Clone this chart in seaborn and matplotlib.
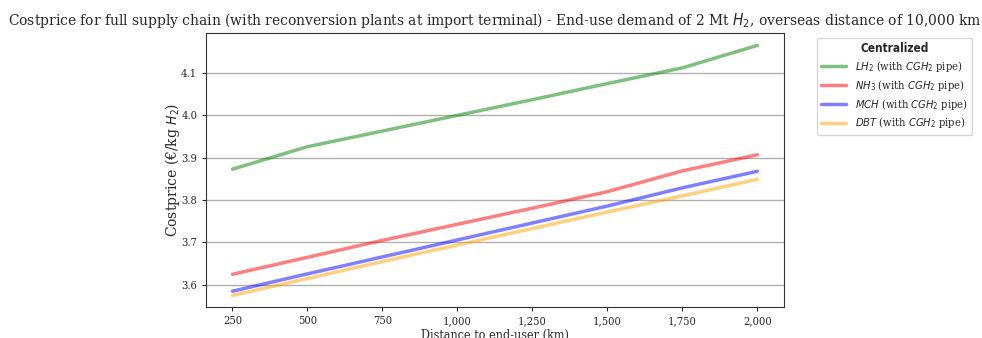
import numpy as np
import pandas as pd
import matplotlib.pyplot as plt
import matplotlib.ticker as mticker
import seaborn as sns

distance = [250, 500, 750, 1000, 1250, 1500, 1750, 2000]
lh2 = [3.873, 3.926, 3.963, 4.000, 4.037, 4.075, 4.112, 4.165]
nh3 = [3.625, 3.665, 3.705, 3.743, 3.781, 3.820, 3.869, 3.907]
mch = [3.585, 3.626, 3.666, 3.706, 3.746, 3.786, 3.829, 3.868]
dbt = [3.575, 3.615, 3.655, 3.694, 3.733, 3.772, 3.810, 3.849]

labels = [r'$LH_2$ (with $CGH_2$ pipe)', r'$NH_3$ (with $CGH_2$ pipe)',
          r'$MCH$ (with $CGH_2$ pipe)', r'$DBT$ (with $CGH_2$ pipe)']
colors = ['green', 'red', 'blue', 'orange']

df = pd.DataFrame({
    'distance': distance * 4,
    'cost': lh2 + nh3 + mch + dbt,
    'carrier': np.repeat(labels, len(distance)),
})

sns.set_style('white')
plt.rcParams['font.family'] = ['DejaVu Serif', 'DejaVu Sans']
plt.rcParams['font.stretch'] = 'condensed'

fig = plt.figure(figsize=(9.82, 3.38), dpi=100)
ax = fig.add_axes([0.21, 0.092, 0.588, 0.81])
sns.lineplot(data=df, x='distance', y='cost', hue='carrier', palette=colors,
             linewidth=2.5, alpha=0.5, ax=ax)

ax.set_ylim(3.548, 4.194)
ax.set_yticks([3.6, 3.7, 3.8, 3.9, 4.0, 4.1])
ax.set_xticks([250, 500, 750, 1000, 1250, 1500, 1750, 2000])
ax.xaxis.set_major_formatter(mticker.FuncFormatter(lambda v, p: f'{v:,.0f}'))
ax.tick_params(axis='both', labelsize=8, length=3, left=True, bottom=True)
ax.grid(axis='y', color='#b0b0b0', linewidth=1)
for s in ax.spines.values():
    s.set_color('#333333')

ax.set_xlabel('Distance to end-user (km)', fontsize=9, labelpad=2)
ax.set_ylabel('Costprice (€/kg $H_2$)', fontsize=10, fontstretch='normal')
ax.yaxis.set_label_coords(-0.042, 0.5)
ax.set_title('Costprice for full supply chain (with reconversion plants at import terminal)'
             ' - End-use demand of 2 Mt $H_2$, overseas distance of 10,000 km', fontsize=11.1)

leg = ax.legend(title='Centralized', loc='upper left', bbox_to_anchor=(1.048, 1.003),
                fontsize=8, labelspacing=0.34, handlelength=2.2,
                title_fontproperties={'weight': 'bold', 'family': 'DejaVu Sans', 'size': 8.5})
for line in leg.get_lines():
    line.set_linewidth(2.5)

fig.savefig('out.png', dpi=100)
